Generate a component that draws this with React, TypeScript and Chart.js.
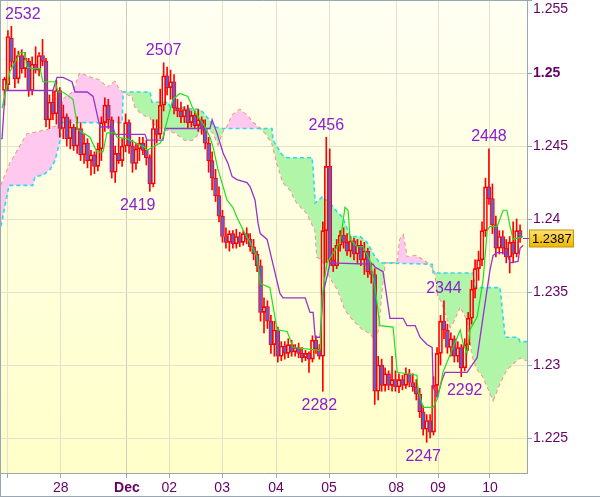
import { useEffect, useRef } from 'react';
import { Chart, registerables } from 'chart.js';
Chart.register(...registerables);

// Prices are stored as pips: price = 1 + pips / 10000. Candle k sits at slot k + 1.
const opens = [2488,2492,2524,2508,2496,2512,2503,2508,2488,2506,2502,2512,2508,2468,2480,2472,2488,2462,2470,2455,2463,2450,2462,2444,2452,2440,2444,2436,2448,2466,2478,2468,2432,2445,2440,2450,2466,2450,2438,2448,2452,2447,2442,2424,2462,2458,2478,2498,2490,2494,2476,2474,2470,2475,2466,2471,2464,2468,2462,2452,2440,2428,2416,2402,2388,2384,2390,2383,2388,2384,2390,2386,2381,2376,2368,2336,2340,2330,2314,2324,2306,2313,2308,2314,2309,2312,2308,2305,2308,2304,2317,2311,2306,2392,2436,2372,2368,2382,2389,2384,2378,2385,2376,2382,2372,2378,2364,2362,2282,2300,2286,2294,2286,2290,2285,2290,2286,2294,2288,2285,2280,2268,2256,2262,2254,2286,2308,2330,2324,2312,2318,2306,2312,2298,2314,2332,2352,2366,2372,2392,2422,2414,2396,2380,2388,2380,2374,2384,2376,2392];
const highs = [2497,2529,2532,2517,2515,2516,2514,2510,2511,2518,2514,2523,2510,2485,2488,2495,2490,2478,2472,2468,2465,2470,2466,2458,2455,2447,2446,2452,2470,2483,2482,2470,2450,2470,2455,2472,2468,2454,2452,2456,2456,2454,2444,2468,2468,2489,2507,2504,2502,2499,2482,2480,2477,2478,2474,2474,2475,2470,2468,2456,2446,2434,2422,2406,2394,2392,2392,2393,2391,2392,2394,2390,2386,2378,2372,2346,2344,2334,2330,2326,2316,2316,2318,2317,2314,2315,2312,2310,2309,2320,2320,2314,2398,2456,2448,2380,2386,2392,2394,2390,2388,2387,2386,2385,2384,2380,2370,2366,2306,2304,2298,2296,2306,2296,2294,2293,2298,2297,2294,2290,2284,2272,2266,2266,2292,2312,2334,2344,2328,2322,2320,2316,2314,2318,2336,2358,2372,2378,2398,2428,2448,2424,2402,2392,2392,2386,2388,2398,2400,2396];
const lows = [2478,2488,2504,2490,2493,2500,2497,2484,2485,2500,2498,2505,2463,2462,2468,2465,2456,2455,2450,2448,2447,2445,2440,2438,2435,2430,2431,2433,2440,2460,2462,2428,2425,2438,2436,2446,2445,2432,2434,2440,2444,2437,2419,2422,2452,2455,2474,2485,2482,2472,2470,2466,2466,2462,2463,2462,2460,2458,2448,2432,2420,2412,2398,2384,2380,2378,2380,2380,2381,2382,2383,2378,2372,2364,2330,2322,2325,2308,2306,2302,2303,2304,2305,2306,2306,2305,2302,2303,2295,2302,2308,2304,2282,2370,2368,2364,2366,2378,2380,2375,2374,2372,2370,2368,2362,2360,2356,2273,2276,2282,2282,2283,2282,2282,2281,2283,2284,2285,2282,2276,2264,2252,2247,2250,2252,2280,2300,2318,2308,2306,2302,2302,2292,2296,2310,2328,2346,2358,2368,2388,2410,2390,2374,2376,2376,2370,2363,2370,2374,2384];
const closes = [2496,2525,2508,2496,2512,2503,2510,2488,2506,2502,2512,2508,2468,2480,2472,2488,2462,2470,2455,2463,2450,2462,2444,2452,2440,2444,2436,2448,2466,2478,2468,2432,2445,2440,2450,2466,2450,2438,2448,2452,2447,2442,2424,2462,2458,2478,2498,2490,2494,2476,2474,2470,2475,2466,2471,2464,2468,2462,2452,2440,2428,2416,2402,2388,2384,2390,2383,2388,2384,2390,2386,2381,2376,2368,2336,2340,2330,2314,2324,2306,2313,2308,2314,2309,2312,2308,2305,2308,2304,2317,2311,2306,2392,2436,2372,2368,2382,2389,2384,2378,2385,2376,2382,2372,2378,2364,2362,2282,2300,2286,2294,2286,2290,2285,2290,2286,2294,2288,2285,2280,2268,2256,2262,2254,2286,2308,2330,2324,2312,2318,2306,2312,2298,2314,2332,2352,2366,2372,2392,2422,2414,2396,2380,2388,2380,2374,2384,2376,2392,2387];

// Tenkan-sen (green)
const tenkanX = [0.3,2.6,4,5.5,6.9,7.5,9.2,11.3,12.1,15.6,16.5,17.9,20.8,22.3,23.7,25.7,27.7,29.5,30.6,32.9,33.5,36.4,41.6,42.2,43.6,46,46.8,48.3,49.7,51.7,54,55.2,56.1,59,60.4,61.3,62.7,64.2,65.3,67,68.2,70.5,72,74,74.9,77.7,79.8,82.7,84.4,92.2,92.8,94.2,98,99.4,100.3,100.9,102.9,104.6,106.6,108.1,109.5,113.3,114.5,120.2,120.5,122,124.9,126.3,127.7,130.6,132.7,133.5,134.7,135.5,137.6,139.3,140.5,141.3,143.4,145.1,146.2,147.1,148,150.9];
const tenkanPips = [2476,2501,2507,2514,2514,2504,2503,2503,2494,2494,2487,2487,2482,2461,2459,2456,2446,2446,2459,2459,2456,2455,2449,2447,2449,2452,2456,2470,2482,2486,2484,2477,2473,2463,2456,2449,2434,2422,2413,2408,2401,2390,2384,2374,2356,2353,2324,2323,2312,2310,2347,2370,2384,2408,2406,2386,2381,2381,2372,2353,2327,2326,2295,2293,2283,2271,2271,2278,2295,2312,2324,2315,2308,2324,2333,2358,2392,2395,2395,2406,2406,2395,2386,2388];

// Kijun-sen (purple)
const kijunX = [0,0.3,1.2,15,16.2,17.9,20.5,21.4,24.9,26.6,28.6,32.4,32.9,41.6,42.2,46.8,47.4,60.4,61,62.4,64.2,65.6,66.8,68.2,71.1,72,73.4,74.3,74.9,76.9,78.3,80.6,81.5,87.9,89.3,90.2,90.8,92.2,93.1,95.1,107.5,108.1,110.4,112.4,116.2,117.3,119.7,121.1,123.1,124.6,124.9,126,127.5,128.3,134.7,136.4,137.6,139.3,141.3,142.2,143.4,146.2,147.1,149.4,150,150.9];
const kijunPips = [2455,2455,2488,2488,2497,2497,2494,2487,2487,2484,2463,2463,2458,2458,2454,2454,2462,2462,2468,2459,2445,2438,2429,2427,2425,2422,2413,2397,2390,2386,2372,2349,2346,2346,2336,2336,2319,2319,2349,2370,2369,2367,2364,2332,2332,2327,2327,2319,2314,2312,2285,2278,2290,2295,2295,2301,2305,2333,2365,2375,2377,2377,2370,2371,2380,2382];

// Senkou span A (cyan dashed)
const spanAX = [0,2.3,9.2,9.8,12.1,14.2,15.6,17.1,17.6,35,35.3,43.1,43.6,48.3,48.8,57.5,58.4,59.8,61.8,63.9,78.3,78.6,81.2,82.7,89.9,90.2,90.8,92.8,95.1,97.1,98.8,100.9,103.8,105.8,108.1,109.5,124.6,124.9,136.4,137,144.2,145.7,149.4,150,152];
const spanAPips = [2395,2423,2423,2429,2430,2434,2440,2454,2466,2466,2487,2487,2480,2480,2477,2475,2473,2469,2463,2462,2462,2454,2444,2442,2442,2434,2411,2415,2411,2405,2401,2388,2388,2384,2374,2370,2369,2363,2363,2353,2353,2319,2319,2316,2316];

// Senkou span B (salmon dashed)
const spanBX = [0,2.6,7.5,13.3,15,17.1,17.9,20.8,22.8,25.7,28.6,30.6,32.9,33.8,35,37.9,38.7,40.2,42.2,43.1,43.6,46.5,50.3,53.2,55.2,56.1,59,61.3,62.7,64.4,65.3,66.8,69,71.1,72.8,74.9,76.3,78.3,79.8,81.5,83.5,85.5,88.4,90.8,91.3,92.8,95.1,97.4,99.4,101.7,104.6,106.6,108.1,109,109.5,110.1,111,114.5,115.3,116.2,117.3,118.2,119.7,122,124.6,125.4,126.3,127.5,128.3,129.8,130.6,132.7,134.7,136.4,137.6,139.3,141.3,142.2,143.4,144.2,146.2,148,150,152];
const spanBPips = [2423,2438,2458,2461,2463,2464,2482,2487,2500,2497,2495,2490,2494,2490,2487,2484,2477,2473,2470,2470,2466,2462,2459,2454,2454,2456,2463,2459,2451,2462,2463,2471,2475,2471,2466,2462,2459,2452,2438,2425,2420,2411,2404,2392,2374,2372,2360,2351,2338,2331,2324,2322,2317,2324,2336,2353,2370,2370,2386,2389,2374,2374,2375,2372,2367,2363,2347,2343,2336,2326,2329,2340,2331,2305,2297,2292,2281,2276,2283,2288,2297,2301,2305,2303];

// Axis ticks
const yTickValues = [1.225, 1.23, 1.235, 1.24, 1.245, 1.25, 1.255];
const yTickLabels = ['1.225', '1.23', '1.235', '1.24', '1.245', '1.25', '1.255'];
const dayTickSlots = [2, 17.3, 36.4, 48.6, 63.9, 79.5, 94.8, 114.2, 126.3, 141.3];
const dayTickLabels = ['', '28', 'Dec', '02', '03', '04', '05', '08', '09', '10'];

// High / low annotations (slot where the label is centred)
const annotSlots = [3, 47, 39.5, 94, 92, 122, 128, 134, 141];
const annotPips = [2532, 2507, 2419, 2456, 2282, 2247, 2344, 2292, 2448];
const annotAbove = [true, true, false, true, false, false, true, false, true];

const lastPrice = 1.2387;

const px = (p: number) => 1 + p / 10000;
const FONT = '"Liberation Sans", Arial, sans-serif';
const AXIS_COLOR = '#9aa6b2';
const LABEL_COLOR = '#660066';

export default function App() {
  const ref = useRef<HTMLCanvasElement | null>(null);
  useEffect(() => {
    const canvas = ref.current!;
    const slots = opens.map((_, i) => i + 1);
    const bodies = slots.map((s, i) => ({ x: s, y: [px(opens[i]), px(closes[i])] }));
    const upper = slots.map((s, i) => ({ x: s, y: [px(Math.max(opens[i], closes[i])), px(highs[i])] }));
    const lower = slots.map((s, i) => ({ x: s, y: [px(lows[i]), px(Math.min(opens[i], closes[i]))] }));
    const bodyColors = slots.map((_, i) => (closes[i] < opens[i] ? '#6a5acd' : 'rgba(0,0,0,0)'));
    const pts = (xs: number[], ps: number[]) => xs.map((x, i) => ({ x, y: px(ps[i]) }));

    const bgPlugin = {
      id: 'bg',
      beforeDraw(chart: any) {
        const { ctx, chartArea: a, width, height } = chart;
        ctx.save();
        ctx.fillStyle = '#ffffff';
        ctx.fillRect(0, 0, width, height);
        const g = ctx.createLinearGradient(0, a.top, 0, a.bottom);
        g.addColorStop(0, '#fffff3');
        g.addColorStop(1, '#ffffc9');
        ctx.fillStyle = g;
        ctx.fillRect(a.left, a.top, a.right - a.left, a.bottom - a.top);
        ctx.restore();
      },
    };

    const overlayPlugin = {
      id: 'overlay',
      afterDraw(chart: any) {
        const { ctx, chartArea: a, width, height } = chart;
        const xs = chart.scales.x;
        const ys = chart.scales.y;
        ctx.save();
        // frame
        ctx.strokeStyle = AXIS_COLOR;
        ctx.lineWidth = 1;
        ctx.beginPath();
        ctx.moveTo(0.5, 0);
        ctx.lineTo(0.5, height);
        ctx.moveTo(0, 0.5);
        ctx.lineTo(a.right, 0.5);
        ctx.moveTo(0, height - 0.5);
        ctx.lineTo(width, height - 0.5);
        ctx.stroke();
        // y labels
        yTickValues.forEach((v, i) => {
          const y = ys.getPixelForValue(v);
          const bold = yTickLabels[i] === '1.25';
          ctx.font = (bold ? 'bold ' : '') + '14px ' + FONT;
          ctx.fillStyle = LABEL_COLOR;
          ctx.textAlign = 'left';
          if (y - 7 < a.top) {
            ctx.textBaseline = 'top';
            ctx.fillText(yTickLabels[i], a.right + 6, a.top + 2);
          } else {
            ctx.textBaseline = 'middle';
            ctx.fillText(yTickLabels[i], a.right + 6, y);
          }
        });
        // annotations
        ctx.font = '16px ' + FONT;
        ctx.fillStyle = '#8a1ed0';
        annotSlots.forEach((s, i) => {
          const x = xs.getPixelForValue(s);
          const y = ys.getPixelForValue(px(annotPips[i]));
          const text = String(annotPips[i]);
          const w = ctx.measureText(text).width;
          const cx = Math.max(x, a.left + 4 + w / 2);
          ctx.textAlign = 'center';
          if (annotAbove[i]) {
            ctx.textBaseline = 'bottom';
            ctx.fillText(text, cx, y - 4);
          } else {
            ctx.textBaseline = 'top';
            ctx.fillText(text, cx, y + 6);
          }
        });
        // last price marker
        const py = Math.round(ys.getPixelForValue(lastPrice)) + 0.5;
        ctx.strokeStyle = '#9932cc';
        ctx.beginPath();
        ctx.moveTo(a.right - 4, py);
        ctx.lineTo(a.right + 3, py);
        ctx.stroke();
        const g = ctx.createLinearGradient(0, py - 8, 0, py + 8);
        g.addColorStop(0, '#ffe070');
        g.addColorStop(1, '#f0b800');
        ctx.fillStyle = g;
        ctx.fillRect(a.right + 2.5, py - 8.5, 44, 17);
        ctx.strokeStyle = '#c89400';
        ctx.strokeRect(a.right + 2.5, py - 8.5, 44, 17);
        ctx.fillStyle = '#000000';
        ctx.font = '13px ' + FONT;
        ctx.textAlign = 'left';
        ctx.textBaseline = 'middle';
        ctx.fillText(lastPrice.toFixed(4), a.right + 5, py + 0.5);
        ctx.restore();
      },
    };

    const chart = new Chart(canvas, {
      type: 'bar',
      data: {
        datasets: [
          {
            type: 'line', data: pts(spanAX, spanAPips), borderColor: '#30d8f0', borderWidth: 1.6,
            borderDash: [4, 3], pointRadius: 0, tension: 0, order: 4,
            fill: { target: '+1', above: '#b0f5a8', below: '#ffc8ee' },
          } as any,
          {
            type: 'line', data: pts(spanBX, spanBPips), borderColor: '#f08a84', borderWidth: 1.6,
            borderDash: [4, 3], pointRadius: 0, tension: 0, order: 5, fill: false,
          } as any,
          { type: 'bar', data: lower, backgroundColor: '#ff0000', barThickness: 1, order: 3 } as any,
          { type: 'bar', data: upper, backgroundColor: '#ff0000', barThickness: 1, order: 3 } as any,
          {
            type: 'bar', data: bodies, backgroundColor: bodyColors, borderColor: '#ff0000',
            borderWidth: 1, borderSkipped: false, barThickness: 4, order: 2,
          } as any,
          {
            type: 'line', data: pts(kijunX, kijunPips), borderColor: '#9932cc', borderWidth: 1.3,
            pointRadius: 0, tension: 0, fill: false, order: 1,
          } as any,
          {
            type: 'line', data: pts(tenkanX, tenkanPips), borderColor: '#1ee01e', borderWidth: 1.2,
            pointRadius: 0, tension: 0, fill: false, order: 0,
          } as any,
        ],
      },
      options: {
        responsive: false,
        animation: false,
        devicePixelRatio: 1,
        layout: { padding: { left: 1, top: 0, right: 0, bottom: 0 } },
        datasets: { bar: { grouped: false } } as any,
        plugins: { legend: { display: false }, tooltip: { enabled: false } },
        scales: {
          x: {
            type: 'linear', min: 0, max: 152, offset: false,
            afterBuildTicks: (s: any) => { s.ticks = dayTickSlots.map((v) => ({ value: v })); },
            afterFit: (s: any) => { s.height = 24; },
            grid: {
              offset: false,
              color: (c: any) => (c.tick && c.tick.value === 36.4 ? '#cfcdb8' : '#e4e2c8'),
              tickColor: AXIS_COLOR, tickLength: 5, drawOnChartArea: true,
            },
            border: { color: AXIS_COLOR, width: 1 },
            ticks: {
              autoSkip: false, maxRotation: 0, padding: 2, color: LABEL_COLOR,
              callback: (_v: any, i: number) => dayTickLabels[i],
              font: (c: any) => ({ family: FONT, size: 14, weight: c.tick && c.tick.label === 'Dec' ? 'bold' : 'normal' }),
            } as any,
          },
          y: {
            type: 'linear', position: 'right', min: 1.222603, max: 1.255,
            afterBuildTicks: (s: any) => { s.ticks = yTickValues.map((v) => ({ value: v })); },
            afterFit: (s: any) => { s.width = 73; },
            grid: { offset: false, color: '#e4e2c8', tickColor: AXIS_COLOR, tickLength: 5 },
            border: { color: AXIS_COLOR, width: 1 },
            ticks: { display: false },
          },
        },
      } as any,
      plugins: [bgPlugin, overlayPlugin],
    });
    return () => chart.destroy();
  }, []);

  return (
    <div style={{ position: 'fixed', left: 0, top: 0, width: 600, height: 497, background: '#fff' }}>
      <canvas ref={ref} width={600} height={497} style={{ display: 'block' }} />
    </div>
  );
}
